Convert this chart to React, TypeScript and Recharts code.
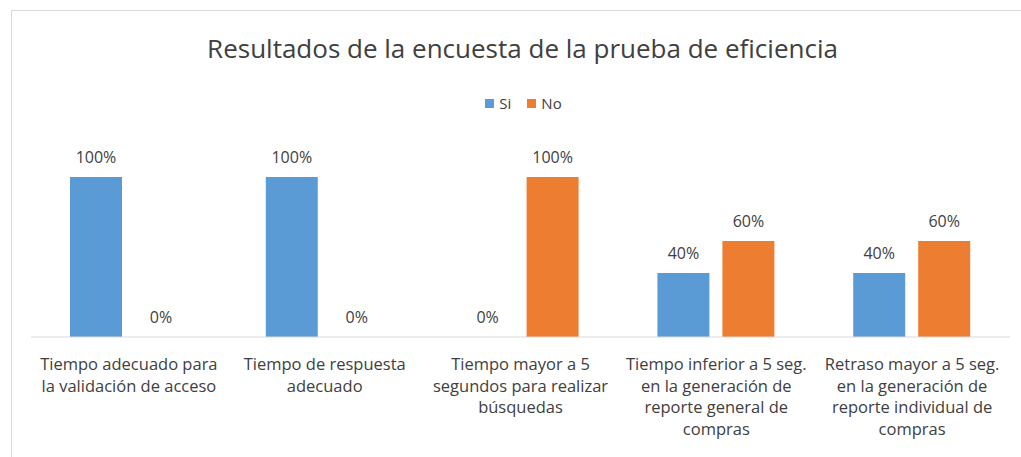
import React from 'react';
import { BarChart, Bar, XAxis, YAxis, LabelList } from 'recharts';

const CATEGORIES = [
  ['Tiempo adecuado para', 'la validación de acceso'],
  ['Tiempo de respuesta', 'adecuado'],
  ['Tiempo mayor a 5', 'segundos para realizar', 'búsquedas'],
  ['Tiempo inferior a 5 seg.', 'en la generación de', 'reporte general de', 'compras'],
  ['Retraso mayor a 5 seg.', 'en la generación de', 'reporte individual de', 'compras'],
];
const SI = [100, 100, 0, 40, 40];
const NO = [0, 0, 100, 60, 60];

const TITLE = 'Resultados de la encuesta de la prueba de eficiencia';
const FONT = '"Open Sans", "Noto Sans", sans-serif';
const TEXT = '#404040';
const BLUE = '#5B9BD5';
const ORANGE = '#ED7D31';

const data = CATEGORIES.map((lines, i) => ({
  name: lines.join(' '),
  si: SI[i],
  no: NO[i],
}));

function CategoryTick({ x, y, index }: any) {
  const lines = CATEGORIES[index] ?? [];
  return (
    <text x={x} y={y} textAnchor="middle" fill={TEXT} fontSize={16.5} fontFamily={FONT}>
      {lines.map((l, i) => (
        <tspan key={i} x={x} dy={i === 0 ? 25 : 21.5}>
          {l}
        </tspan>
      ))}
    </text>
  );
}

function LegendBox() {
  const items = [
    { label: 'Si', color: BLUE },
    { label: 'No', color: ORANGE },
  ];
  return (
    <div
      style={{
        position: 'absolute',
        left: 13,
        width: 1021,
        top: 93,
        display: 'flex',
        justifyContent: 'center',
        gap: 16,
        fontFamily: FONT,
        fontSize: 15,
        color: TEXT,
        lineHeight: '20px',
      }}
    >
      {items.map((it) => (
        <div key={it.label} style={{ display: 'flex', alignItems: 'center', gap: 5 }}>
          <span style={{ width: 9, height: 9, background: it.color, display: 'inline-block' }} />
          <span>{it.label}</span>
        </div>
      ))}
    </div>
  );
}

const valueLabel = {
  position: 'top' as const,
  offset: 14,
  formatter: (v: number) => `${v}%`,
  style: { fill: TEXT, fontSize: 16, fontFamily: FONT },
};

export default function App() {
  return (
    <div style={{ position: 'fixed', left: 0, top: 0, width: 1021, height: 457, background: '#fff', overflow: 'hidden' }}>
      {/* frame of the original chart */}
      <div
        style={{
          position: 'absolute',
          left: 11,
          top: 10,
          right: -2,
          bottom: -2,
          borderTop: '1px solid #d9d9d9',
          borderLeft: '1px solid #d9d9d9',
        }}
      />
      <div
        style={{
          position: 'absolute',
          left: 12,
          width: 1021,
          top: 30,
          textAlign: 'center',
          fontFamily: FONT,
          fontSize: 26,
          color: TEXT,
          lineHeight: '36px',
        }}
      >
        {TITLE}
      </div>
      <LegendBox />
      <div style={{ position: 'absolute', left: 0, top: 0 }}>
        <BarChart
          width={1021}
          height={457}
          data={data}
          margin={{ top: 177, right: 11, left: 31, bottom: 0 }}
          barSize={52}
          barGap={13}
        >
          <YAxis hide domain={[0, 100]} />
          <XAxis
            dataKey="name"
            height={120}
            axisLine={{ stroke: '#d9d9d9' }}
            tickLine={false}
            interval={0}
            tick={<CategoryTick />}
          />
          <Bar dataKey="si" name="Si" fill={BLUE} minPointSize={0.01} isAnimationActive={false}>
            <LabelList dataKey="si" {...valueLabel} />
          </Bar>
          <Bar dataKey="no" name="No" fill={ORANGE} minPointSize={0.01} isAnimationActive={false}>
            <LabelList dataKey="no" {...valueLabel} />
          </Bar>
        </BarChart>
      </div>
    </div>
  );
}
